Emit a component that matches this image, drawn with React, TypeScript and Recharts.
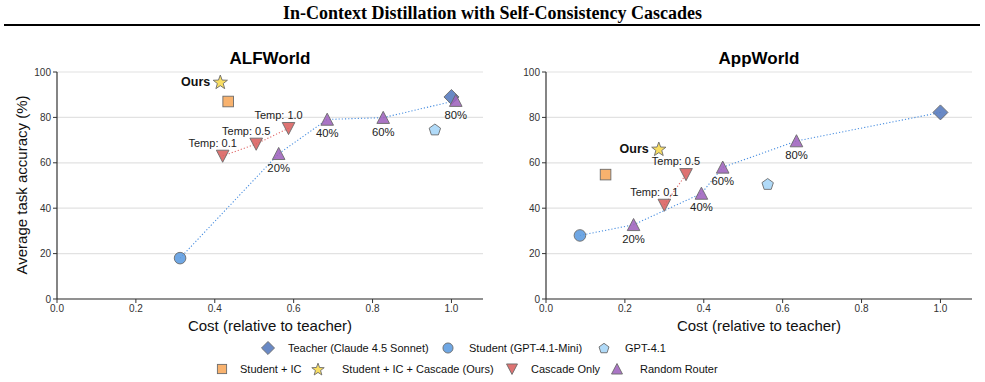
import React from 'react';
import { ScatterChart, Scatter, XAxis, YAxis, CartesianGrid } from 'recharts';

// Cost vs. accuracy for the two benchmarks

const costTicks = [0, 0.2, 0.4, 0.6, 0.8, 1.0];
const accTicks = [0, 20, 40, 60, 80, 100];

// ALFWorld
const alfTeacher = [{ x: 1.0, y: 89 }];
const alfStudent = [{ x: 0.312, y: 18 }];
const alfGpt41 = [{ x: 0.958, y: 74.7 }];
const alfStudentIC = [{ x: 0.434, y: 87 }];
const alfOurs = [{ x: 0.414, y: 95.7, label: 'Ours' }];
const alfCascade = [
  { x: 0.42, y: 63, label: 'Temp: 0.1' },
  { x: 0.505, y: 68.3, label: 'Temp: 0.5' },
  { x: 0.587, y: 75.2, label: 'Temp: 1.0' },
];
const alfRouter = [
  { x: 0.562, y: 64, label: '20%' },
  { x: 0.685, y: 79.1, label: '40%' },
  { x: 0.827, y: 79.9, label: '60%' },
  { x: 1.011, y: 87.4, label: '80%' },
];

// AppWorld
const appTeacher = [{ x: 1.0, y: 82.2 }];
const appStudent = [{ x: 0.086, y: 28 }];
const appGpt41 = [{ x: 0.562, y: 50.7 }];
const appStudentIC = [{ x: 0.151, y: 54.8 }];
const appOurs = [{ x: 0.286, y: 66.2, label: 'Ours' }];
const appCascade = [
  { x: 0.3, y: 41.4, label: 'Temp: 0.1' },
  { x: 0.355, y: 54.9, label: 'Temp: 0.5' },
];
const appRouter = [
  { x: 0.222, y: 32.7, label: '20%' },
  { x: 0.394, y: 46.5, label: '40%' },
  { x: 0.448, y: 58, label: '60%' },
  { x: 0.635, y: 69.6, label: '80%' },
];

const FONT = '"Liberation Sans", Arial, sans-serif';

const COLORS = {
  teacher: '#5479bd',
  student: '#5b9be0',
  gpt41: '#a5d5f7',
  studentIC: '#f7a75a',
  ours: '#f8d94c',
  cascade: '#d9605f',
  router: '#9e62bd',
};

type Kind = 'diamond' | 'circle' | 'pentagon' | 'square' | 'star' | 'down' | 'up';

function pts(list: number[][], cx: number, cy: number, k: number) {
  return list.map(([a, b]) => `${cx + a * k},${cy + b * k}`).join(' ');
}

function Marker({ kind, cx, cy, fill, k = 1 }: { kind: Kind; cx: number; cy: number; fill: string; k?: number }) {
  const common = { fill, fillOpacity: 0.88, stroke: '#6b6b6b', strokeWidth: 0.9 };
  switch (kind) {
    case 'diamond':
      return <polygon points={pts([[0, -7.5], [7.5, 0], [0, 7.5], [-7.5, 0]], cx, cy, k)} {...common} />;
    case 'circle':
      return <circle cx={cx} cy={cy} r={5.8 * k} {...common} />;
    case 'square':
      return <rect x={cx - 5.3 * k} y={cy - 5.3 * k} width={10.6 * k} height={10.6 * k} {...common} />;
    case 'pentagon': {
      const p = [0, 1, 2, 3, 4].map((i) => {
        const a = -Math.PI / 2 + (i * 2 * Math.PI) / 5;
        return [6 * Math.cos(a), 6 * Math.sin(a) + 0.6];
      });
      return <polygon points={pts(p, cx, cy, k)} {...common} />;
    }
    case 'star': {
      const p: number[][] = [];
      for (let i = 0; i < 10; i++) {
        const r = i % 2 === 0 ? 7.5 : 3.1;
        const a = -Math.PI / 2 + (i * Math.PI) / 5;
        p.push([r * Math.cos(a), r * Math.sin(a) + 0.8]);
      }
      return <polygon points={pts(p, cx, cy, k)} {...common} />;
    }
    case 'down':
      return <polygon points={pts([[-6.3, -5.8], [6.3, -5.8], [0, 6.3]], cx, cy, k)} {...common} />;
    case 'up':
      return <polygon points={pts([[0, -6.3], [-6.3, 5.8], [6.3, 5.8]], cx, cy, k)} {...common} />;
  }
  return null;
}

type LabelPos = 'none' | 'below' | 'aboveLeft' | 'leftBold';

function makeShape(kind: Kind, fill: string, labelPos: LabelPos = 'none') {
  return (props: any) => {
    const { cx, cy, payload } = props;
    if (cx == null || cy == null) return <g />;
    const label = payload?.label;
    let text = null;
    if (label && labelPos === 'below') {
      text = (
        <text x={cx} y={cy + 18} textAnchor="middle" fontSize={11.3} fill="#222" fontFamily={FONT}>
          {label}
        </text>
      );
    } else if (label && labelPos === 'aboveLeft') {
      text = (
        <text x={cx - 10} y={cy - 9} textAnchor="middle" fontSize={11} fill="#222" fontFamily={FONT}>
          {label}
        </text>
      );
    } else if (label && labelPos === 'leftBold') {
      text = (
        <text x={cx - 10} y={cy + 4.5} textAnchor="end" fontSize={12.5} fontWeight="bold" fill="#111" fontFamily={FONT}>
          {label}
        </text>
      );
    }
    return (
      <g>
        <Marker kind={kind} cx={cx} cy={cy} fill={fill} />
        {text}
      </g>
    );
  };
}

const noDot = () => <g />;

interface PanelData {
  teacher: { x: number; y: number }[];
  student: { x: number; y: number }[];
  gpt41: { x: number; y: number }[];
  studentIC: { x: number; y: number }[];
  ours: { x: number; y: number; label: string }[];
  cascade: { x: number; y: number; label: string }[];
  router: { x: number; y: number; label: string }[];
}

function Panel({ d }: { d: PanelData }) {
  // blue dotted path: student -> router mixes -> teacher
  const routerPath = [...d.student, ...d.router, ...d.teacher];
  return (
    <ScatterChart width={490} height={340} margin={{ top: 72, right: 7, bottom: 21, left: 0 }}>
      <CartesianGrid vertical={false} stroke="#e2e2e2" strokeWidth={1.2} />
      <XAxis
        type="number"
        dataKey="x"
        domain={[0, 1.08]}
        ticks={costTicks}
        tickFormatter={(v: number) => v.toFixed(1)}
        allowDataOverflow
        height={20}
        tickSize={4}
        tick={{ fontSize: 10, fill: '#333' }}
        axisLine={{ stroke: '#333', strokeWidth: 1.2 }}
        tickLine={{ stroke: '#333' }}
      />
      <YAxis
        type="number"
        dataKey="y"
        domain={[0, 100]}
        ticks={accTicks}
        width={57}
        tickSize={4}
        tick={{ fontSize: 10, fill: '#333' }}
        axisLine={{ stroke: '#333', strokeWidth: 1.2 }}
        tickLine={{ stroke: '#333' }}
      />
      <Scatter
        data={routerPath}
        shape={noDot}
        line={{ stroke: '#4a8fe0', strokeWidth: 1.1, strokeDasharray: '1.2 2' }}
        isAnimationActive={false}
      />
      <Scatter
        data={d.cascade}
        shape={noDot}
        line={{ stroke: '#e06a6a', strokeWidth: 1.1, strokeDasharray: '1.2 2' }}
        isAnimationActive={false}
      />
      <Scatter data={d.teacher} shape={makeShape('diamond', COLORS.teacher)} isAnimationActive={false} />
      <Scatter data={d.student} shape={makeShape('circle', COLORS.student)} isAnimationActive={false} />
      <Scatter data={d.gpt41} shape={makeShape('pentagon', COLORS.gpt41)} isAnimationActive={false} />
      <Scatter data={d.studentIC} shape={makeShape('square', COLORS.studentIC)} isAnimationActive={false} />
      <Scatter data={d.ours} shape={makeShape('star', COLORS.ours, 'leftBold')} isAnimationActive={false} />
      <Scatter data={d.cascade} shape={makeShape('down', COLORS.cascade, 'aboveLeft')} isAnimationActive={false} />
      <Scatter data={d.router} shape={makeShape('up', COLORS.router, 'below')} isAnimationActive={false} />
    </ScatterChart>
  );
}

const legendRows: { kind: Kind; color: string; name: string; mx: number; tx: number; y: number }[] = [
  { kind: 'diamond', color: COLORS.teacher, name: 'Teacher (Claude 4.5 Sonnet)', mx: 268, tx: 288, y: 348 },
  { kind: 'circle', color: COLORS.student, name: 'Student (GPT-4.1-Mini)', mx: 448, tx: 469, y: 348 },
  { kind: 'pentagon', color: COLORS.gpt41, name: 'GPT-4.1', mx: 604, tx: 625, y: 348 },
  { kind: 'square', color: COLORS.studentIC, name: 'Student + IC', mx: 222, tx: 240, y: 369 },
  { kind: 'star', color: COLORS.ours, name: 'Student + IC + Cascade (Ours)', mx: 318, tx: 342, y: 369 },
  { kind: 'down', color: COLORS.cascade, name: 'Cascade Only', mx: 512, tx: 531, y: 369 },
  { kind: 'up', color: COLORS.router, name: 'Random Router', mx: 617, tx: 640, y: 369 },
];

const abs = (s: React.CSSProperties): React.CSSProperties => ({ position: 'absolute', ...s });

export default function App() {
  return (
    <div style={abs({ top: 0, left: 0, width: 985, height: 382, background: '#fff', fontFamily: FONT, overflow: 'hidden' })}>
      <div
        style={abs({
          top: 3,
          left: 0,
          width: 985,
          textAlign: 'center',
          fontFamily: '"Liberation Serif", "Times New Roman", serif',
          fontWeight: 'bold',
          fontSize: 18,
          lineHeight: '20px',
          color: '#000',
        })}
      >
        In-Context Distillation with Self-Consistency Cascades
      </div>
      <div style={abs({ top: 24, left: 4, width: 976, height: 2, background: '#000' })} />

      <div style={abs({ top: 0, left: 0 })}>
        <Panel
          d={{
            teacher: alfTeacher,
            student: alfStudent,
            gpt41: alfGpt41,
            studentIC: alfStudentIC,
            ours: alfOurs,
            cascade: alfCascade,
            router: alfRouter,
          }}
        />
      </div>
      <div style={abs({ top: 0, left: 489 })}>
        <Panel
          d={{
            teacher: appTeacher,
            student: appStudent,
            gpt41: appGpt41,
            studentIC: appStudentIC,
            ours: appOurs,
            cascade: appCascade,
            router: appRouter,
          }}
        />
      </div>

      {/* panel titles */}
      <div style={abs({ top: 48, left: 57, width: 426, textAlign: 'center', fontWeight: 'bold', fontSize: 17, lineHeight: '22px' })}>
        ALFWorld
      </div>
      <div style={abs({ top: 48, left: 546, width: 426, textAlign: 'center', fontWeight: 'bold', fontSize: 17, lineHeight: '22px' })}>
        AppWorld
      </div>

      {/* axis titles */}
      <div style={abs({ top: 316, left: 57, width: 426, textAlign: 'center', fontSize: 15, lineHeight: '20px', color: '#111' })}>
        Cost (relative to teacher)
      </div>
      <div style={abs({ top: 316, left: 546, width: 426, textAlign: 'center', fontSize: 15, lineHeight: '20px', color: '#111' })}>
        Cost (relative to teacher)
      </div>
      <div
        style={abs({
          top: 175,
          left: -78,
          width: 200,
          textAlign: 'center',
          fontSize: 15,
          lineHeight: '20px',
          color: '#111',
          transform: 'rotate(-90deg)',
        })}
      >
        Average task accuracy (%)
      </div>

      {/* legend */}
      {legendRows.map((r) => (
        <React.Fragment key={r.name}>
          <svg style={abs({ left: r.mx - 9, top: r.y - 9 })} width={18} height={18}>
            <Marker kind={r.kind} cx={9} cy={9} fill={r.color} k={0.87} />
          </svg>
          <div style={abs({ left: r.tx, top: r.y - 8, fontSize: 11, lineHeight: '16px', color: '#111', whiteSpace: 'nowrap' })}>
            {r.name}
          </div>
        </React.Fragment>
      ))}
    </div>
  );
}
